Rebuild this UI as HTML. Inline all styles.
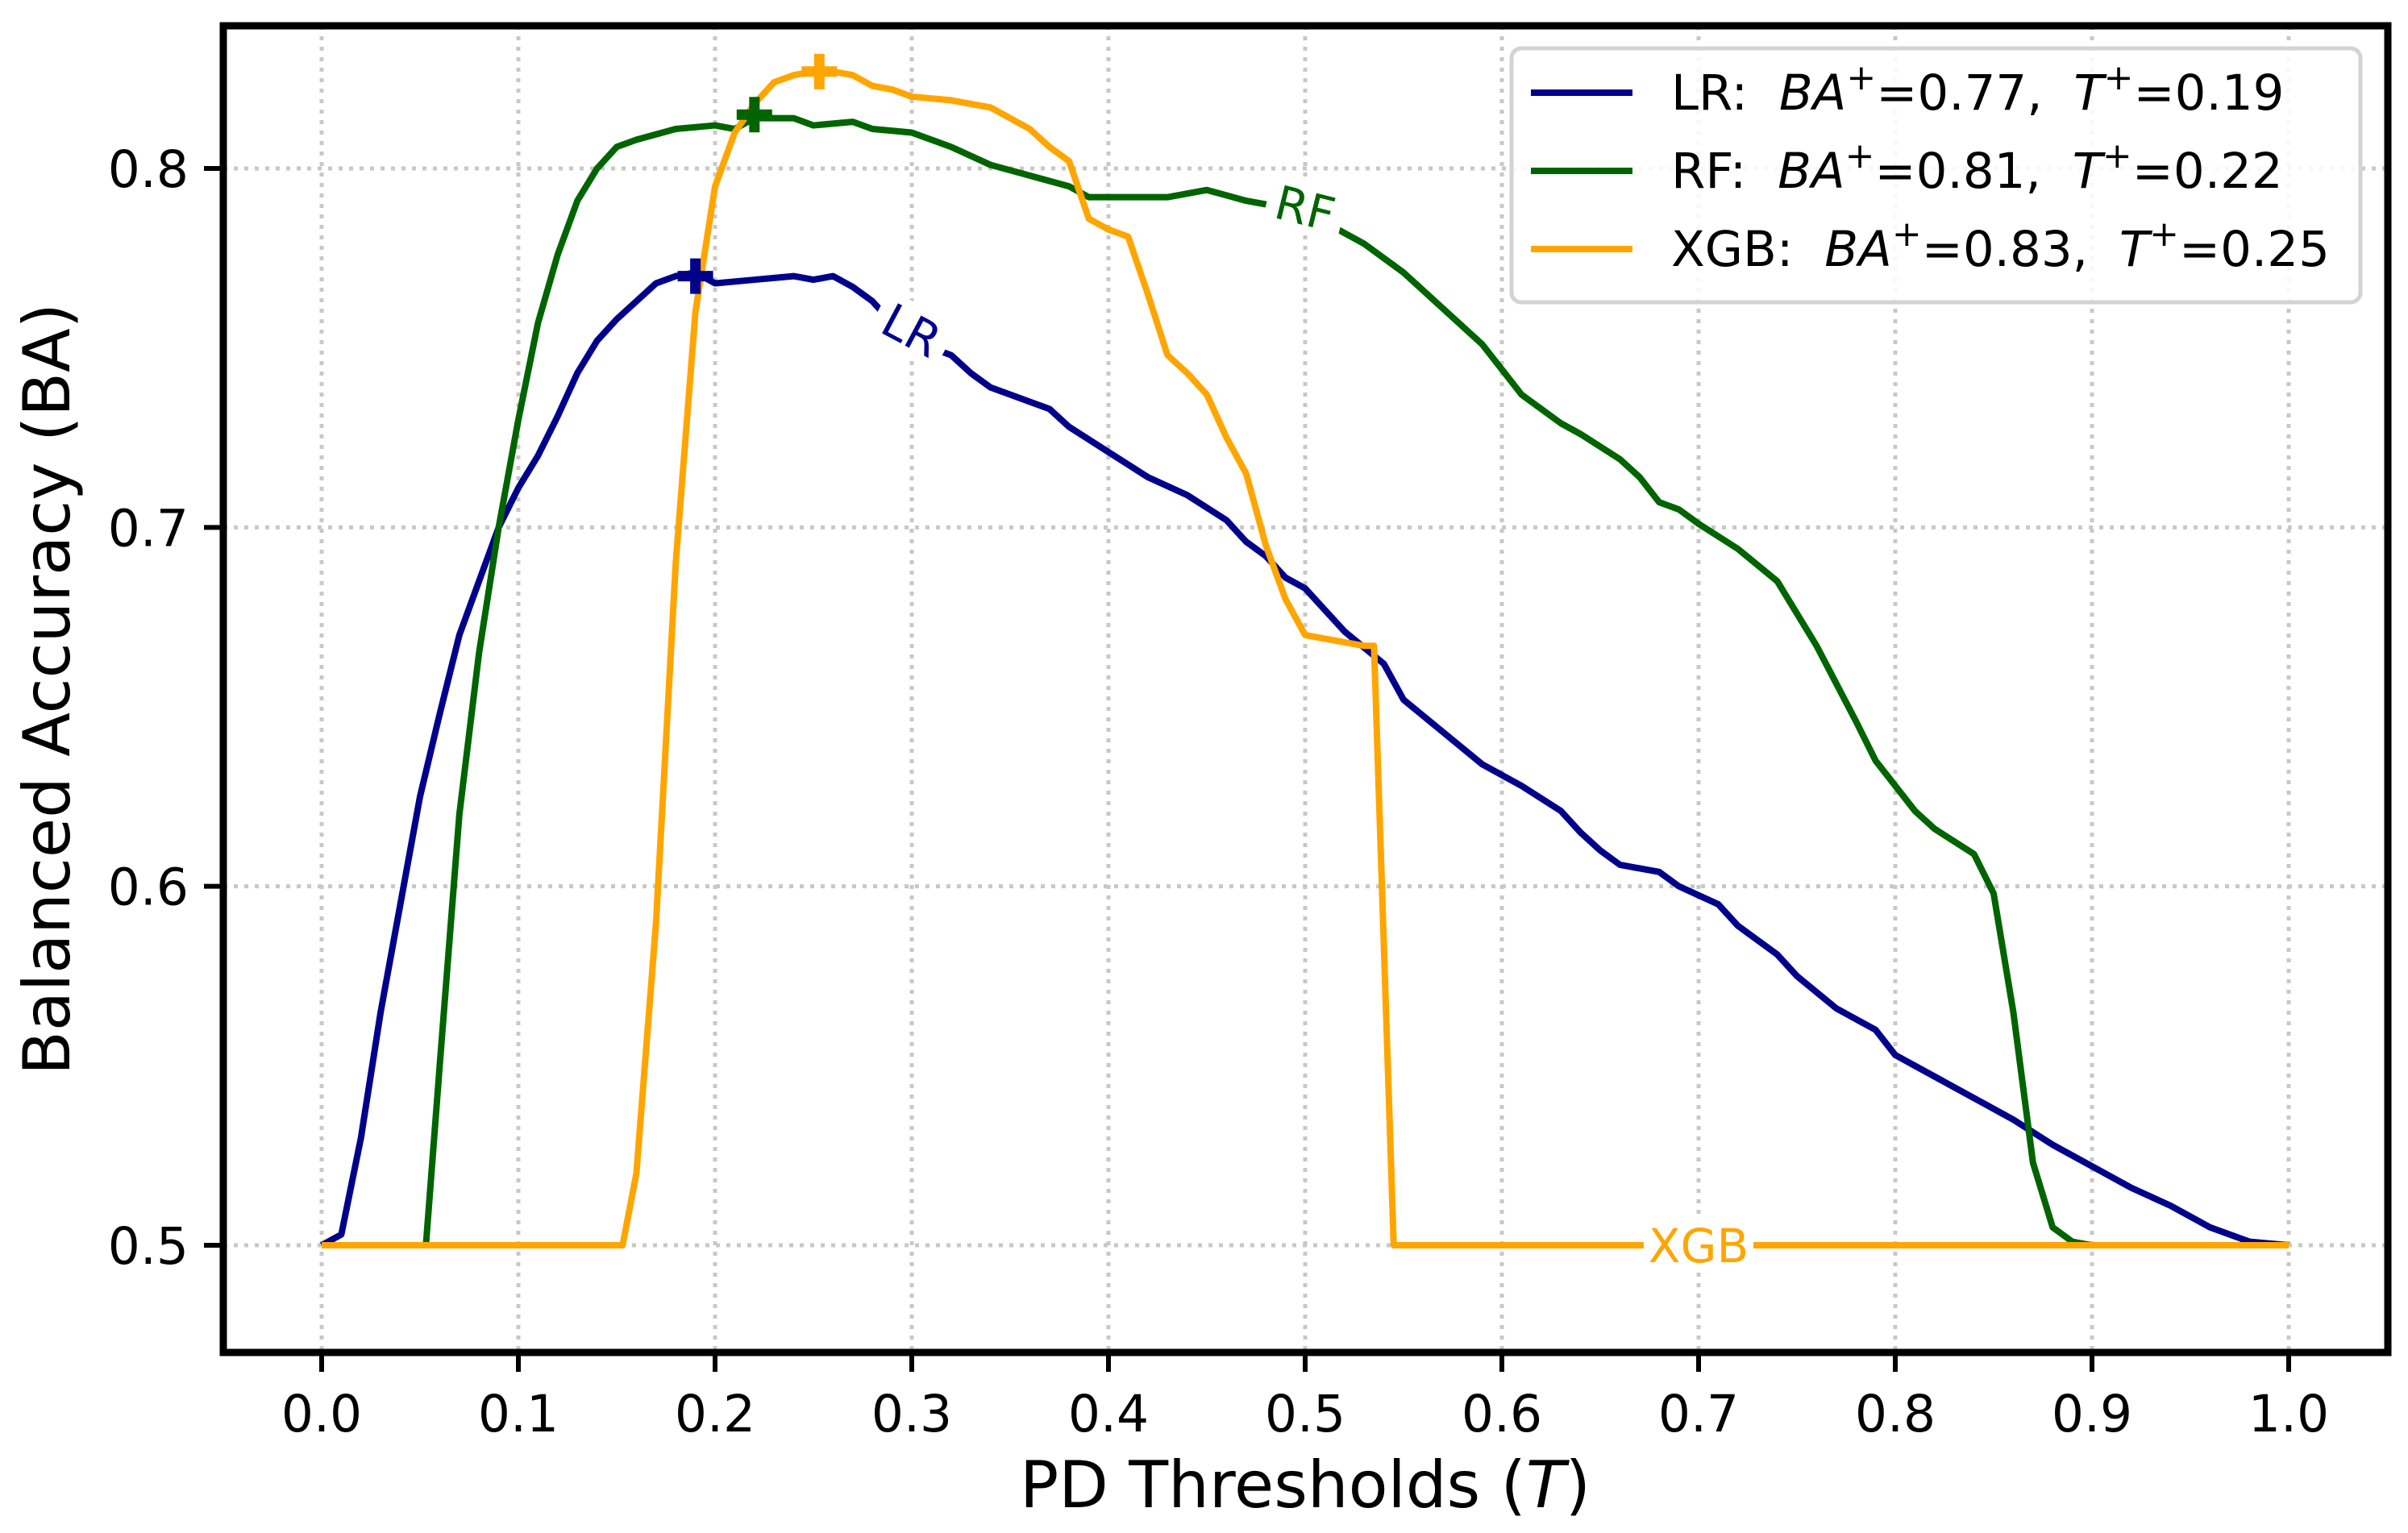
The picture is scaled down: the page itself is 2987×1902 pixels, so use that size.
<!DOCTYPE html>
<html><head><meta charset="utf-8"><style>
body{margin:0;background:#fff}
svg{display:block}
text{font-family:"DejaVu Sans","Liberation Sans",sans-serif}
</style></head><body>
<svg id="chart" width="2987" height="1902" viewBox="0 0 2987 1902" xmlns="http://www.w3.org/2000/svg">
<rect width="2987" height="1902" fill="#fff"/>
<g id="grid"></g>
<g id="series"></g>
<g id="labels"></g>
<rect x="277" y="32" width="2685" height="1646" fill="none" stroke="#000" stroke-width="9"/>
<g id="ticks"></g>
<text x="1619" y="1870" font-size="80" text-anchor="middle">PD Thresholds (<tspan font-style="italic">T</tspan>)</text>
<text transform="translate(86,855) rotate(-90)" font-size="80" text-anchor="middle">Balanced Accuracy (BA)</text>
<g>
<rect x="1875" y="60" width="1053" height="315" rx="12" fill="#fff" fill-opacity="0.85" stroke="#d3d3d3" stroke-width="5"/>
<line x1="1899" y1="115" x2="2025" y2="115" stroke="#00008b" stroke-width="8"/>
<text x="2073" y="136" font-size="61">LR:&#160; <tspan font-style="italic">BA</tspan><tspan dy="-25" font-size="44">+</tspan><tspan dy="25">=0.77,&#160; </tspan><tspan font-style="italic">T</tspan><tspan dy="-25" font-size="44">+</tspan><tspan dy="25">=0.19</tspan></text>
<line x1="1899" y1="212" x2="2025" y2="212" stroke="#006400" stroke-width="8"/>
<text x="2073" y="233" font-size="61">RF:&#160; <tspan font-style="italic">BA</tspan><tspan dy="-25" font-size="44">+</tspan><tspan dy="25">=0.81,&#160; </tspan><tspan font-style="italic">T</tspan><tspan dy="-25" font-size="44">+</tspan><tspan dy="25">=0.22</tspan></text>
<line x1="1899" y1="309" x2="2025" y2="309" stroke="#ffa500" stroke-width="8"/>
<text x="2073" y="330" font-size="61">XGB:&#160; <tspan font-style="italic">BA</tspan><tspan dy="-25" font-size="44">+</tspan><tspan dy="25">=0.83,&#160; </tspan><tspan font-style="italic">T</tspan><tspan dy="-25" font-size="44">+</tspan><tspan dy="25">=0.25</tspan></text>
</g>
</svg>
<script>
const xTicks=[0,0.1,0.2,0.3,0.4,0.5,0.6,0.7,0.8,0.9,1.0];
const xTickLabels=["0.0","0.1","0.2","0.3","0.4","0.5","0.6","0.7","0.8","0.9","1.0"];
const yTicks=[0.5,0.6,0.7,0.8];
const yTickLabels=["0.5","0.6","0.7","0.8"];
const lrT=[0,0.01,0.02,0.03,0.04,0.05,0.06,0.07,0.08,0.09,0.10,0.11,0.12,0.13,0.14,0.15,0.16,0.17,0.18,0.19,0.20,0.22,0.24,0.25,0.26,0.27,0.28,0.29,0.30,0.31,0.32,0.33,0.34,0.36,0.37,0.38,0.40,0.42,0.44,0.46,0.47,0.48,0.49,0.50,0.52,0.54,0.55,0.57,0.59,0.61,0.63,0.64,0.65,0.66,0.68,0.69,0.71,0.72,0.74,0.75,0.77,0.79,0.80,0.82,0.84,0.86,0.88,0.90,0.92,0.94,0.96,0.98,1.0];
const lrBA=[0.5,0.503,0.53,0.565,0.595,0.625,0.648,0.67,0.685,0.70,0.711,0.72,0.731,0.743,0.752,0.758,0.763,0.768,0.77,0.771,0.768,0.769,0.770,0.769,0.770,0.767,0.763,0.757,0.755,0.75,0.748,0.743,0.739,0.735,0.733,0.728,0.721,0.714,0.709,0.702,0.696,0.692,0.686,0.683,0.671,0.662,0.652,0.643,0.634,0.628,0.621,0.615,0.61,0.606,0.604,0.6,0.595,0.589,0.581,0.575,0.566,0.56,0.553,0.547,0.541,0.535,0.528,0.522,0.516,0.511,0.505,0.501,0.5];
const rfT=[0.053,0.06,0.07,0.08,0.09,0.10,0.11,0.12,0.13,0.14,0.15,0.16,0.18,0.20,0.21,0.22,0.24,0.25,0.27,0.28,0.30,0.32,0.34,0.36,0.38,0.39,0.41,0.43,0.45,0.47,0.49,0.51,0.53,0.55,0.57,0.59,0.61,0.63,0.64,0.66,0.67,0.68,0.69,0.70,0.72,0.74,0.76,0.78,0.79,0.81,0.82,0.84,0.85,0.86,0.87,0.88,0.89,0.90,1.0];
const rfBA=[0.5,0.55,0.62,0.665,0.70,0.73,0.757,0.776,0.791,0.80,0.806,0.808,0.811,0.812,0.811,0.814,0.814,0.812,0.813,0.811,0.810,0.806,0.801,0.798,0.795,0.792,0.792,0.792,0.794,0.791,0.789,0.785,0.779,0.771,0.761,0.751,0.737,0.729,0.726,0.719,0.714,0.707,0.705,0.701,0.694,0.685,0.667,0.646,0.635,0.621,0.616,0.609,0.598,0.565,0.523,0.505,0.501,0.5,0.5];
const xgbT=[0,0.153,0.16,0.17,0.18,0.19,0.20,0.21,0.22,0.23,0.24,0.25,0.26,0.27,0.28,0.29,0.30,0.32,0.34,0.35,0.36,0.37,0.38,0.39,0.40,0.41,0.42,0.43,0.44,0.45,0.46,0.47,0.48,0.49,0.50,0.51,0.53,0.535,0.545,1.0];
const xgbBA=[0.5,0.5,0.52,0.59,0.69,0.76,0.795,0.81,0.818,0.824,0.826,0.827,0.827,0.826,0.823,0.822,0.820,0.819,0.817,0.814,0.811,0.806,0.802,0.786,0.783,0.781,0.765,0.748,0.743,0.737,0.725,0.715,0.695,0.680,0.670,0.669,0.667,0.667,0.5,0.5];
const bestT=[0.19,0.22,0.253];
const bestBA=[0.77,0.815,0.827];
const colors=["#00008b","#006400","#ffa500"];
const NS="http://www.w3.org/2000/svg";
const X=t=>399+t*2440;
const Y=v=>1545-(v-0.5)*4453.3;
function mk(tag,attrs,parent){const e=document.createElementNS(NS,tag);for(const k in attrs)e.setAttribute(k,attrs[k]);parent.appendChild(e);return e;}
const grid=document.getElementById('grid'),ticks=document.getElementById('ticks'),series=document.getElementById('series'),labels=document.getElementById('labels');
xTicks.forEach((t,i)=>{
 const g=mk('line',{x1:X(t),x2:X(t),y1:32,y2:1678,stroke:'#c8c8c8','stroke-width':5,'stroke-dasharray':'5,8'},grid);
 
 
 const tk=mk('line',{x1:X(t),x2:X(t),y1:1678,y2:1702,stroke:'#000','stroke-width':6},ticks);
 
 
 const tx=mk('text',{x:X(t),y:1776,'font-size':63,'text-anchor':'middle'},ticks);
 tx.textContent=xTickLabels[i];
 
 
});
yTicks.forEach((v,i)=>{
 const g=mk('line',{x1:277,x2:2962,y1:Y(v),y2:Y(v),stroke:'#c8c8c8','stroke-width':5,'stroke-dasharray':'5,8'},grid);
 
 
 const tk=mk('line',{x1:253,x2:277,y1:Y(v),y2:Y(v),stroke:'#000','stroke-width':6},ticks);
 
 
 const tx=mk('text',{x:234,y:Y(v)+23,'font-size':63,'text-anchor':'end'},ticks);
 tx.textContent=yTickLabels[i];
 
 
});
const all=[[lrT,lrBA,'lr-line'],[rfT,rfBA,'rf-line'],[xgbT,xgbBA,'xgb-line']];
all.forEach((s,k)=>{
 const pts=s[0].map((t,i)=>X(t)+','+Y(s[1][i])).join(' ');
 const p=mk('polyline',{points:pts,fill:'none',stroke:colors[k],'stroke-width':8,'stroke-linejoin':'round'},series);
 
 
});
bestT.forEach((t,k)=>{
 const cx=X(t),cy=Y(bestBA[k]);
 const m=mk('path',{d:`M${cx-22},${cy}H${cx+22}M${cx},${cy-22}V${cy+22}`,stroke:colors[k],'stroke-width':13},series);
 
 
});
const lab=[["LR",0.30,0.755,28,0],["RF",0.50,0.789,14,1],["XGB",0.70,0.5,0,2]];
lab.forEach(l=>{
 const cx=X(l[1]),cy=Y(l[2]);
 const g=mk('g',{transform:`translate(${cx},${cy}) rotate(${l[3]})`},labels);
 
 
 const w=l[0].length*40+16;
 mk('rect',{x:-w/2,y:-32,width:w,height:64,fill:'#fff'},g);
 const t=mk('text',{x:0,y:21,'font-size':58,'text-anchor':'middle',fill:colors[l[4]]},g);
 t.textContent=l[0];
});
</script>
</body></html>
